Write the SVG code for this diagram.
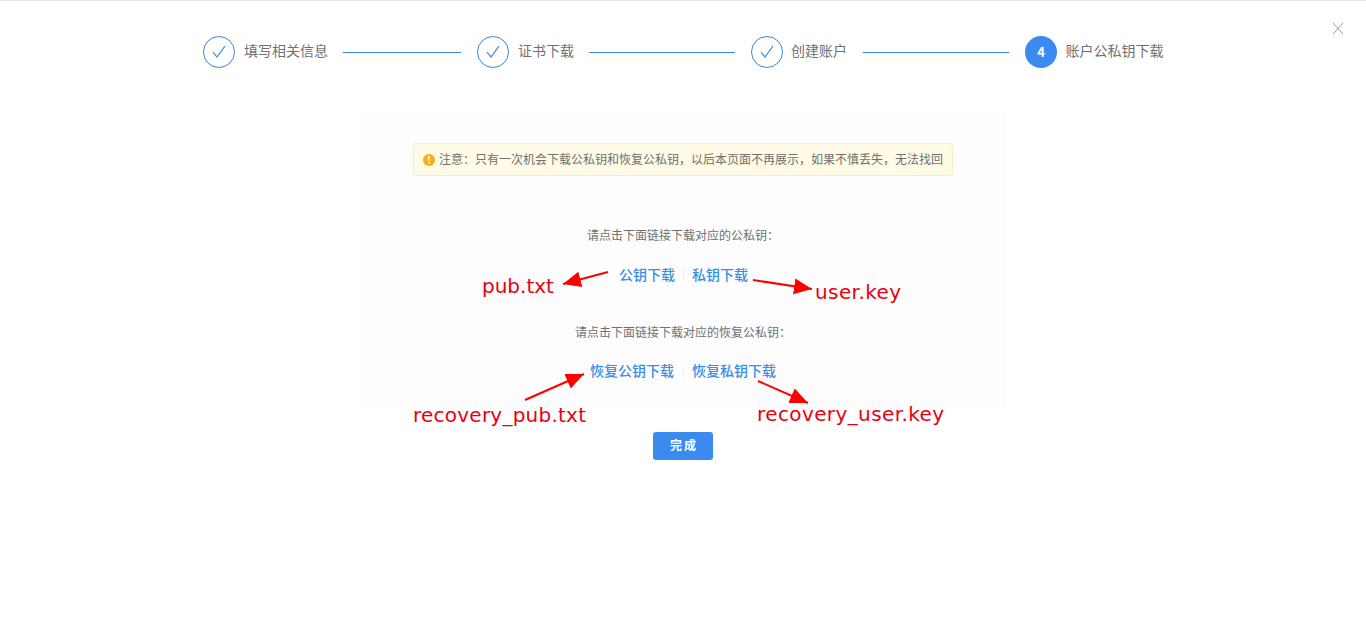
<svg xmlns="http://www.w3.org/2000/svg" width="1366" height="625" viewBox="0 0 1366 625">
<style>
text{font-family:"Noto Sans CJK SC","Liberation Sans",sans-serif}
.st{font-size:14px;fill:#707070}
.ln{stroke:#3a85e0;stroke-width:1;fill:none}
.ci{fill:#fff;stroke:#3a85e0;stroke-width:1}
.ck{fill:none;stroke:#3a85e0;stroke-width:1.200}
.d{font-size:12px;fill:#707070;text-anchor:middle}
.lk{font-size:14px;font-weight:500;fill:#3a8ee6}
.an{font-family:"DejaVu Sans",sans-serif;font-size:20px;fill:#e8000f}
.ar{stroke:#f00;stroke-width:2;fill:none;marker-end:url(#h)}
.sp{fill:#e8eef5}
</style>
<defs><marker id="h" markerUnits="userSpaceOnUse" markerWidth="20" markerHeight="18" refX="18" refY="8" orient="auto"><path d="M0 0L18 8L0 16Z" fill="#f00"/></marker></defs>
<rect width="1366" height="625" fill="#fff"/>
<rect width="1366" height="1" fill="#e8e8e8"/>
<rect x="360" y="110" width="646" height="300" fill="#fdfdfd"/>
<g id="step1"><circle class="ci" cx="219" cy="52" r="15.500"/><path class="ck" d="M213 52L217 57L225 46"/><text class="st" x="244" y="56">填写相关信息</text></g>
<g id="step2"><circle class="ci" cx="493" cy="52" r="15.500"/><path class="ck" d="M487 52L491 57L499 46"/><text class="st" x="518" y="56">证书下载</text></g>
<g id="step3"><circle class="ci" cx="767" cy="52" r="15.500"/><path class="ck" d="M761 52L765 57L773 46"/><text class="st" x="791" y="56">创建账户</text></g>
<g id="step4"><circle cx="1041" cy="52" r="16" fill="#3a8af0"/><text x="1041" y="57" font-size="13" font-weight="700" fill="#fff" text-anchor="middle">4</text><text class="st" x="1065.500" y="56">账户公私钥下载</text></g>
<g id="close"><path d="M1333 23L1343 34M1343 23L1333 34" stroke="#999" stroke-width="1" fill="none"/></g>
<g id="notice"><rect x="413.500" y="143.500" width="539" height="32" rx="3" fill="#fffbe6" stroke="#fbeeb0"/><circle cx="429" cy="160" r="6" fill="#faad14"/><rect x="428.300" y="156" width="1.400" height="5" fill="#fff"/><rect x="428.300" y="162" width="1.400" height="1.500" fill="#fff"/><text x="439" y="164" font-size="12" fill="#707070">注意：只有一次机会下载公私钥和恢复公私钥，以后本页面不再展示，如果不慎丢失，无法找回</text></g>
<g id="prompt1"><text class="d" x="683" y="240">请点击下面链接下载对应的公私钥：</text></g>
<g id="links1"><text class="lk" x="619" y="280">公钥下载</text><rect class="sp" x="683" y="269" width="1" height="12"/><text class="lk" x="692" y="280">私钥下载</text></g>
<g id="prompt2"><text class="d" x="683" y="337">请点击下面链接下载对应的恢复公私钥：</text></g>
<g id="links2"><text class="lk" x="590" y="376">恢复公钥下载</text><rect class="sp" x="683" y="366" width="1" height="12"/><text class="lk" x="692" y="376">恢复私钥下载</text></g>
<g id="button"><rect x="653" y="432" width="60" height="28" rx="3" fill="#3a8af0"/><text x="684" y="450" font-size="12" font-weight="700" fill="#fff" text-anchor="middle" letter-spacing="2">完成</text></g>
<g id="connectors">
<path class="ln" d="M343 52.500H461M589 52.500H735M863 52.500H1009"/>
<path class="ar" d="M608 272L563 284"/>
<path class="ar" d="M753 280L812 289"/>
<path class="ar" d="M525 400L584 374"/>
<path class="ar" d="M758 381L808 403"/>
</g>
<g id="annotations">
<text class="an" x="482" y="293">pub.txt</text>
<text class="an" x="815" y="299" textLength="86">user.key</text>
<text class="an" x="413" y="422" textLength="173">recovery_pub.txt</text>
<text class="an" x="757" y="421" textLength="187">recovery_user.key</text>
</g>
</svg>
